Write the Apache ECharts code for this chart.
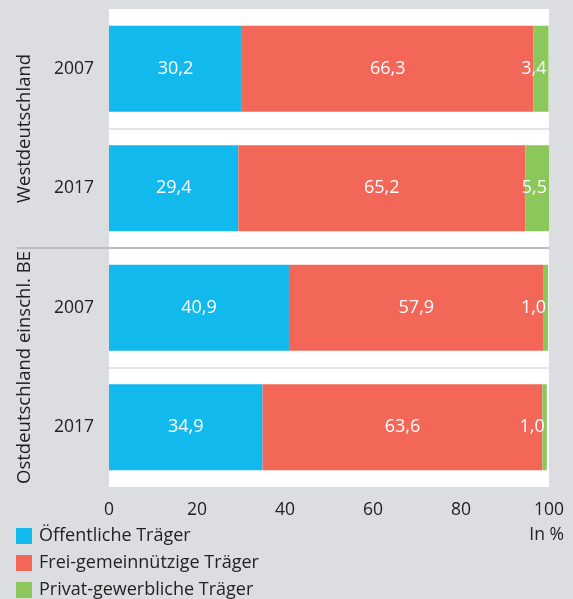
<!DOCTYPE html>
<html><head><meta charset="utf-8">
<script src="https://cdn.jsdelivr.net/npm/echarts@6/dist/echarts.min.js"></script>
<style>html,body{margin:0;padding:0;background:#dcdde0;}#c{width:573px;height:599px;}</style>
</head><body><div id="c"></div>
<script>
const categories = ['W2007', 'W2017', 'O2007', 'O2017'];
const yearLabels = ['2007', '2017', '2007', '2017'];
const groups = ['Westdeutschland', 'Ostdeutschland einschl. BE'];
const seriesNames = ['Öffentliche Träger', 'Frei-gemeinnützige Träger', 'Privat-gewerbliche Träger'];
const oeffentlich = [30.2, 29.4, 40.9, 34.9];
const freiGemein = [66.3, 65.2, 57.9, 63.6];
const privat = [3.4, 5.5, 1.0, 1.0];
const xTicks = [0, 20, 40, 60, 80, 100];
const unitLabel = 'In %';

const colors = ['#12b9ed', '#f26757', '#8bc75a'];
const font = 'Open Sans';
const fs = 17.5;
const chart = echarts.init(document.getElementById('c'), null, {renderer: 'canvas'});
const fmt = p => p.value.toFixed(1).replace('.', ',');
const mk = (name, data, color, pos) => ({
  name, type: 'bar', stack: 'a', data, barWidth: 86,
  itemStyle: {color},
  label: {show: true, position: pos, formatter: fmt, color: '#fff', fontFamily: font, fontSize: 18, distance: 2},
  emphasis: {disabled: true}, animation: false
});
chart.setOption({
  backgroundColor: '#dcdde0',
  animation: false,
  textStyle: {fontFamily: font},
  grid: {left: 109, right: 24, top: 9, bottom: 112, show: true, backgroundColor: '#fff', borderWidth: 0},
  xAxis: {type: 'value', min: xTicks[0], max: xTicks[xTicks.length - 1], interval: 20,
    axisLine: {show: false}, axisTick: {show: false}, splitLine: {show: false},
    axisLabel: {color: '#222', fontSize: fs, margin: 14, fontFamily: font}},
  yAxis: [{type: 'category', data: categories, inverse: true,
    axisLine: {show: false}, axisTick: {show: false},
    axisLabel: {color: '#222', fontSize: fs, margin: 15, fontFamily: font, formatter: (v, i) => yearLabels[i]},
    splitLine: {show: true, lineStyle: {width: 2, color: ['rgba(0,0,0,0)', '#e4e4e4', '#bdbdbd', '#e4e4e4', 'rgba(0,0,0,0)']}}
  }, {type: 'category', data: groups, inverse: true, position: 'left', offset: 75,
    axisLine: {show: false}, axisTick: {show: false}, splitLine: {show: false},
    axisLabel: {color: '#222', fontSize: 18.5, rotate: 90, fontFamily: font, margin: 0, interval: 0, hideOverlap: false}
  }],
  legend: {orient: 'vertical', left: 16, top: 527, padding: 0, height: 90, itemWidth: 16, itemHeight: 16, itemGap: 9, icon: 'rect',
    selectedMode: false, textStyle: {fontSize: 18, color: '#222', fontFamily: font, padding: [0, 0, 0, 2]},
    data: seriesNames},
  series: [
    mk(seriesNames[0], oeffentlich, colors[0], 'inside'),
    mk(seriesNames[1], freiGemein, colors[1], 'inside'),
    mk(seriesNames[2], privat, colors[2], 'insideRight'),
    {type: 'bar', yAxisIndex: 1, data: [], silent: true}
  ]
});
const yb = (chart.convertToPixel({yAxisIndex: 0}, 'W2017') + chart.convertToPixel({yAxisIndex: 0}, 'O2007')) / 2;
chart.setOption({graphic: [
  {type: 'line', shape: {x1: 17, y1: yb, x2: 109, y2: yb}, style: {stroke: '#bdbdbd', lineWidth: 2}, silent: true},
  {type: 'text', right: 9, top: 526, style: {text: unitLabel, fontSize: fs, fill: '#222', fontFamily: font}, silent: true}
]});
</script></body></html>
